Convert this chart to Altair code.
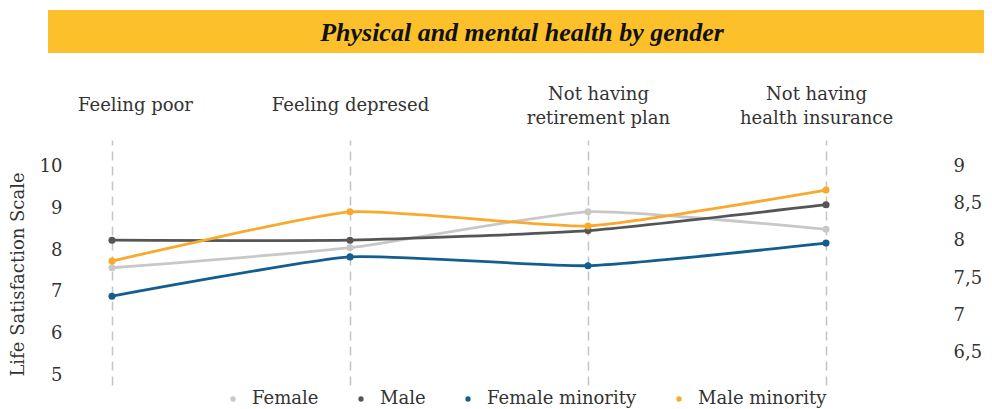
import json
import altair as alt
import pandas as pd

title_text = "Physical and mental health by gender"
categories = ["Feeling poor", "Feeling depresed", "Not having\nretirement plan", "Not having\nhealth insurance"]
series = ["Female", "Male", "Female minority", "Male minority"]
female = [7.58, 8.06, 8.92, 8.50]
male = [8.24, 8.24, 8.47, 9.09]
female_minority = [6.90, 7.84, 7.63, 8.17]
male_minority = [7.74, 8.92, 8.58, 9.44]
left_ticks = [5, 6, 7, 8, 9, 10]
right_ticks = [6.5, 7, 7.5, 8, 8.5, 9]
colors = ["#C8C8C8", "#555555", "#125E8E", "#F9A92B"]

values = [female, male, female_minority, male_minority]
rows = []
for s, vals in zip(series, values):
    for i, (c, v) in enumerate(zip(categories, vals)):
        rows.append({"category": c, "idx": i, "series": s, "value": v})
df = pd.DataFrame(rows)

FONT = "DejaVu Serif"

label_shift = [23, 0, 10, -10]
offset_conditions = [
    {"test": "datum.value == " + json.dumps(c), "value": d}
    for c, d in zip(categories, label_shift) if d != 0
]

x_enc = alt.X(
    "category:N",
    sort=categories,
    scale=alt.Scale(type="point", range=[40, 754], padding=0),
    axis=alt.Axis(
        orient="top", title=None, domain=False, ticks=False,
        labelExpr="split(datum.label, '\\n')",
        labelAngle=0, labelBaseline="middle",
        labelPadding={"condition": {"test": "length(split(datum.label, '\\n')) > 1", "value": 46}, "value": 35},
        labelOffset={"condition": offset_conditions, "value": 0},
        labelLineHeight=24, labelFont=FONT, labelFontSize=18, labelColor="#333333",
        grid=True, gridDash=[9, 6], gridColor="#C4C4C4", gridWidth=1.5,
    ),
)

color_scale = alt.Scale(domain=series, range=colors)
legend = alt.Legend(
    title=None, orient="none", direction="horizontal",
    legendX=152, legendY=250, symbolType="circle", symbolSize=28,
    symbolStrokeWidth=0,
    labelFont=FONT, labelFontSize=18, labelColor="#333333",
    labelOffset=10, columnPadding=33, padding=0,
)

lines = alt.Chart(df).mark_line(strokeWidth=2.8, interpolate="cardinal", tension=0.5).encode(
    x=x_enc,
    y=alt.Y(
        "value:Q",
        scale=alt.Scale(domain=[4.773, 10.639], nice=False, zero=False),
        axis=alt.Axis(
            orient="left", values=left_ticks, title="Life Satisfaction Scale",
            domain=False, ticks=False, grid=False, labelPadding=10,
            labelFont=FONT, labelFontSize=18, labelColor="#333333",
            titleFont=FONT, titleFontSize=18, titleFontWeight="normal", titleColor="#333333",
            titlePadding=12, titleY=134,
        ),
    ),
    color=alt.Color("series:N", scale=color_scale, sort=series, legend=legend),
    order=alt.Order("idx:Q"),
)

points = alt.Chart(df).mark_point(filled=True, size=50, opacity=1).encode(
    x=x_enc,
    y=alt.Y("value:Q", scale=alt.Scale(domain=[4.773, 10.639], nice=False, zero=False)),
    color=alt.Color("series:N", scale=color_scale, sort=series, legend=legend),
)

main = alt.layer(lines, points)

right = alt.Chart(df).mark_point(opacity=0).encode(
    x=x_enc,
    y=alt.Y(
        "value:Q",
        scale=alt.Scale(domain=[6.072, 9.348], nice=False, zero=False),
        axis=alt.Axis(
            orient="right", values=right_ticks, title=None,
            domain=False, ticks=False, grid=False, labelPadding=13,
            labelFont=FONT, labelFontSize=18, labelColor="#333333",
            labelExpr="replace(toString(datum.value), '.', ',')",
        ),
    ),
)

title_df = pd.DataFrame({"title": [title_text]})
banner = alt.Chart(title_df).mark_rect(color="#FCC12A").encode(
    x=alt.value(-24), x2=alt.value(912), y=alt.value(-130), y2=alt.value(-87)
)
title_mark = alt.Chart(title_df).mark_text(
    font="Liberation Serif", fontSize=26, fontStyle="italic", fontWeight="bold",
    color="#111111", align="center", baseline="middle",
).encode(text="title:N", x=alt.value(450), y=alt.value(-107))

chart = alt.layer(banner, title_mark, main, right).resolve_scale(y="independent").properties(
    width=868, height=245,
    autosize=alt.AutoSizeParams(type="none"),
    padding={"left": 64, "top": 132, "right": 44, "bottom": 24},
).configure_view(stroke=None)

chart.save("out.html", embed_options={"renderer": "svg", "actions": False})
